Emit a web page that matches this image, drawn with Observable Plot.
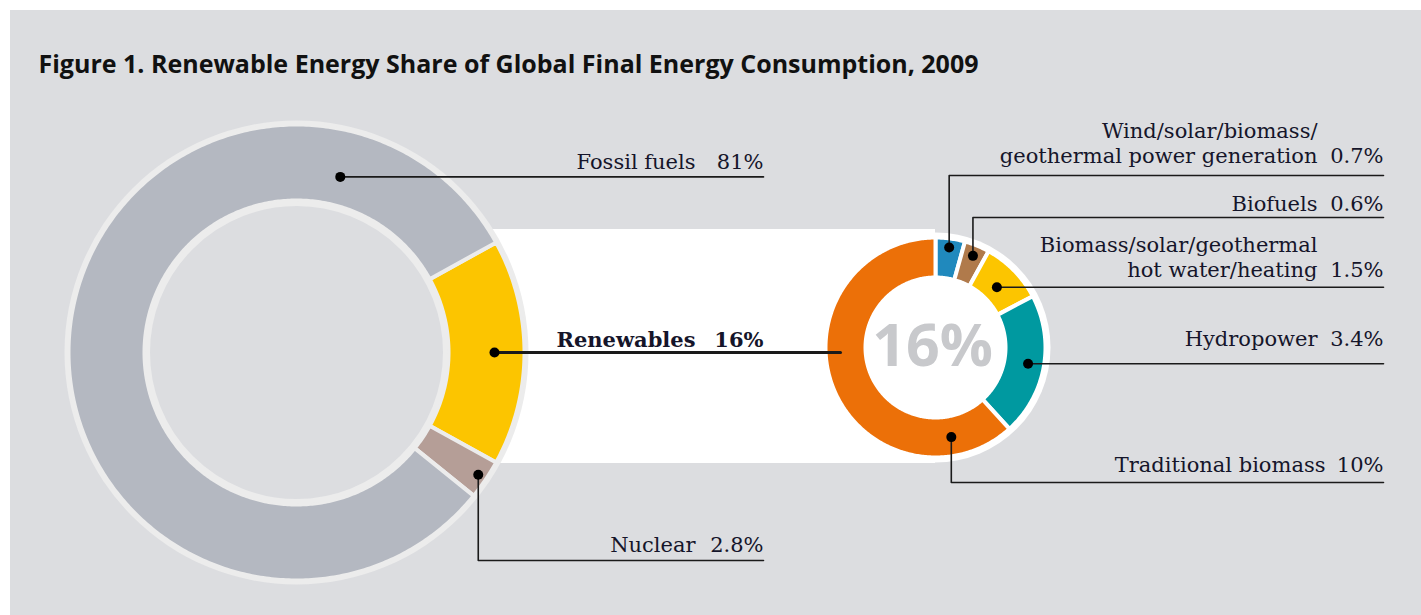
<!DOCTYPE html>
<html><head><meta charset="utf-8">
<script src="https://cdn.jsdelivr.net/npm/d3@7"></script>
<script src="https://cdn.jsdelivr.net/npm/@observablehq/plot@0.6"></script>
<style>
html,body{margin:0;padding:0;background:#fff;}
#chart{position:absolute;left:10px;top:10px;}
</style></head><body><div id="chart"></div>
<script>
// ---------------- DATA ----------------
const title = "Figure 1. Renewable Energy Share of Global Final Energy Consumption, 2009";
const mainCategories = ["Renewables", "Nuclear", "Fossil fuels"];
const mainValues = [16, 2.8, 81];
const mainValueLabels = ["16%", "2.8%", "81%"];
const renewCategories = ["Wind/solar/biomass/\ngeothermal power generation", "Biofuels", "Biomass/solar/geothermal\nhot water/heating", "Hydropower", "Traditional biomass"];
const renewValues = [0.7, 0.6, 1.5, 3.4, 10];
const renewValueLabels = ["0.7%", "0.6%", "1.5%", "3.4%", "10%"];
const centerLabel = "16%";

// ---------------- STYLE / LAYOUT ----------------
const mainColors = ["#fcc500", "#b59e97", "#b4b8c1"];
const renewColors = ["#2089bd", "#b07a4b", "#fcc500", "#0099a0", "#ec7008"];
const BG = "#dcdde0", RING = "#ececec", INK = "#15152a";
const OX = 10, OY = 10, W = 1411, H = 605;
const LG = {cx: 296, cy: 352, r0: 152, r1: 228};
const RG = {cx: 935, cy: 347, r0: 70, r1: 110};
const band = {x1: LG.cx, x2: RG.cx, y1: 229, y2: 463};
const mainLeaders = [
  {dotR: 198, route: "h", endX: 840, nameX: 695, valX: 763, baseY: 346, bold: true, sw: 3},
  {dotR: 219, route: "v", elbowY: 560, endX: 763, nameX: 695, valX: 763, baseY: 551, sw: 1.6},
  {angle: 14, dotR: 181, route: "h", endX: 763, nameX: 695, valX: 763, baseY: 168, sw: 1.6}
];
const renewLeaders = [
  {dotR: 101, route: "v", elbowY: 175, endX: 1383, nameX: 1317, valX: 1383, baseY: 162, sw: 1.6},
  {dotR: 99, route: "v", elbowY: 217, endX: 1383, nameX: 1317, valX: 1383, baseY: 210, sw: 1.6},
  {dotR: 86, route: "h", endX: 1383, nameX: 1317, valX: 1383, baseY: 276, sw: 1.6},
  {dotR: 94, route: "h", endX: 1383, nameX: 1317, valX: 1383, baseY: 345, sw: 1.6},
  {angle: 170, dotR: 91, route: "v", elbowY: 482, endX: 1383, nameX: 1325, valX: 1383, baseY: 471, sw: 1.6}
];

// ---------------- GEOMETRY ----------------
const rad = d => d * Math.PI / 180;
function ring(cats, vals, start, g) {
  const arcs = d3.pie().sort(null).value(d => d[1])
    .startAngle(start).endAngle(start + 2 * Math.PI)(d3.zip(cats, vals));
  const pts = [];
  arcs.forEach(a => {
    const n = Math.max(10, Math.ceil((a.endAngle - a.startAngle) * 80));
    for (let k = 0; k <= n; k++) {
      const t = a.startAngle + (a.endAngle - a.startAngle) * k / n;
      pts.push({cat: a.data[0], x: g.cx + g.r1 * Math.sin(t), y: g.cy - g.r1 * Math.cos(t)});
    }
    for (let k = n; k >= 0; k--) {
      const t = a.startAngle + (a.endAngle - a.startAngle) * k / n;
      pts.push({cat: a.data[0], x: g.cx + g.r0 * Math.sin(t), y: g.cy - g.r0 * Math.cos(t)});
    }
  });
  return {arcs, pts};
}
const mainStart = Math.PI / 2 - (mainValues[0] / d3.sum(mainValues)) * Math.PI;
const left = ring(mainCategories, mainValues, mainStart, LG);
const right = ring(renewCategories, renewValues, 0, RG);

function leaders(arcs, lay, g, names, vals) {
  const lines = [], dots = [], labels = [];
  arcs.forEach((a, i) => {
    const L = lay[i];
    const ang = L.angle != null ? rad(L.angle) : (a.startAngle + a.endAngle) / 2;
    const dx = g.cx + L.dotR * Math.sin(ang), dy = g.cy - L.dotR * Math.cos(ang);
    dots.push({x: dx, y: dy});
    const path = L.route === "h"
      ? [[dx, dy], [L.endX, dy]]
      : [[dx, dy], [dx, L.elbowY], [L.endX, L.elbowY]];
    path.forEach(p => lines.push({id: names[i], x: p[0], y: p[1], sw: L.sw}));
    labels.push({name: names[i], value: vals[i], nameX: L.nameX, valX: L.valX, y: L.baseY, bold: !!L.bold});
  });
  return {lines, dots, labels};
}
const lL = leaders(left.arcs, mainLeaders, LG, mainCategories, mainValueLabels);
const rL = leaders(right.arcs, renewLeaders, RG, renewCategories, renewValueLabels);
const allLines = [...lL.lines, ...rL.lines];
const allDots = [...lL.dots, ...rL.dots];
const allLabels = [...lL.labels, ...rL.labels];
const plainLabels = allLabels.filter(d => !d.bold);
const boldLabels = allLabels.filter(d => d.bold);

const serif = "'DejaVu Serif', serif";
const labelMarks = (data, weight) => [
  Plot.text(data, {x: "nameX", y: "y", text: "name", textAnchor: "end", lineAnchor: "bottom", lineHeight: 1.15, fontSize: 21, fontFamily: serif, fill: INK, fontWeight: weight}),
  Plot.text(data, {x: "valX", y: "y", text: "value", textAnchor: "end", lineAnchor: "bottom", fontSize: 21, fontFamily: serif, fill: INK, fontWeight: weight})
];

const chart = Plot.plot({
  width: W, height: H, margin: 0,
  x: {domain: [OX, OX + W], range: [0, W], axis: null},
  y: {domain: [OY, OY + H], range: [0, H], axis: null},
  color: {domain: [...mainCategories, ...renewCategories], range: [...mainColors, ...renewColors]},
  style: {background: BG, overflow: "visible"},
  marks: [
    Plot.rect([band], {x1: "x1", x2: "x2", y1: "y1", y2: "y2", fill: "white"}),
    // left donut
    Plot.dot([LG], {x: "cx", y: "cy", r: LG.r1 + 4, fill: RING, stroke: "none"}),
    Plot.line(left.pts, {x: "x", y: "y", z: "cat", fill: "cat", stroke: RING, strokeWidth: 4, curve: "linear-closed"}),
    Plot.dot([LG], {x: "cx", y: "cy", r: LG.r0 - 3, fill: BG, stroke: RING, strokeWidth: 5}),
    // right donut
    Plot.dot([RG], {x: "cx", y: "cy", r: RG.r1 + 5, fill: "white", stroke: "none"}),
    Plot.line(right.pts, {x: "x", y: "y", z: "cat", fill: "cat", stroke: "white", strokeWidth: 4, curve: "linear-closed"}),
    Plot.dot([RG], {x: "cx", y: "cy", r: RG.r0 - 1, fill: "white", stroke: "none"}),
    Plot.text([centerLabel], {x: RG.cx - 3, y: RG.cy + 18, text: d => d, fill: "#c8c9cc", fontSize: 59, fontWeight: 700, fontFamily: "'Open Sans', sans-serif", textAnchor: "middle", lineAnchor: "bottom"}),
    // leaders
    Plot.line(allLines, {x: "x", y: "y", z: "id", stroke: "#1a1a1a", strokeWidth: "sw"}),
    Plot.dot(allDots, {x: "x", y: "y", r: 5, fill: "black", stroke: "none"}),
    // labels
    ...labelMarks(plainLabels, 400),
    ...labelMarks(boldLabels, 700),
    // title
    Plot.text([title], {x: 38, y: 72, text: d => d, textAnchor: "start", lineAnchor: "bottom", fontSize: 25, fontWeight: 700, fontFamily: "'Open Sans', sans-serif", fill: "#111"})
  ]
});
document.getElementById("chart").appendChild(chart);
</script></body></html>
